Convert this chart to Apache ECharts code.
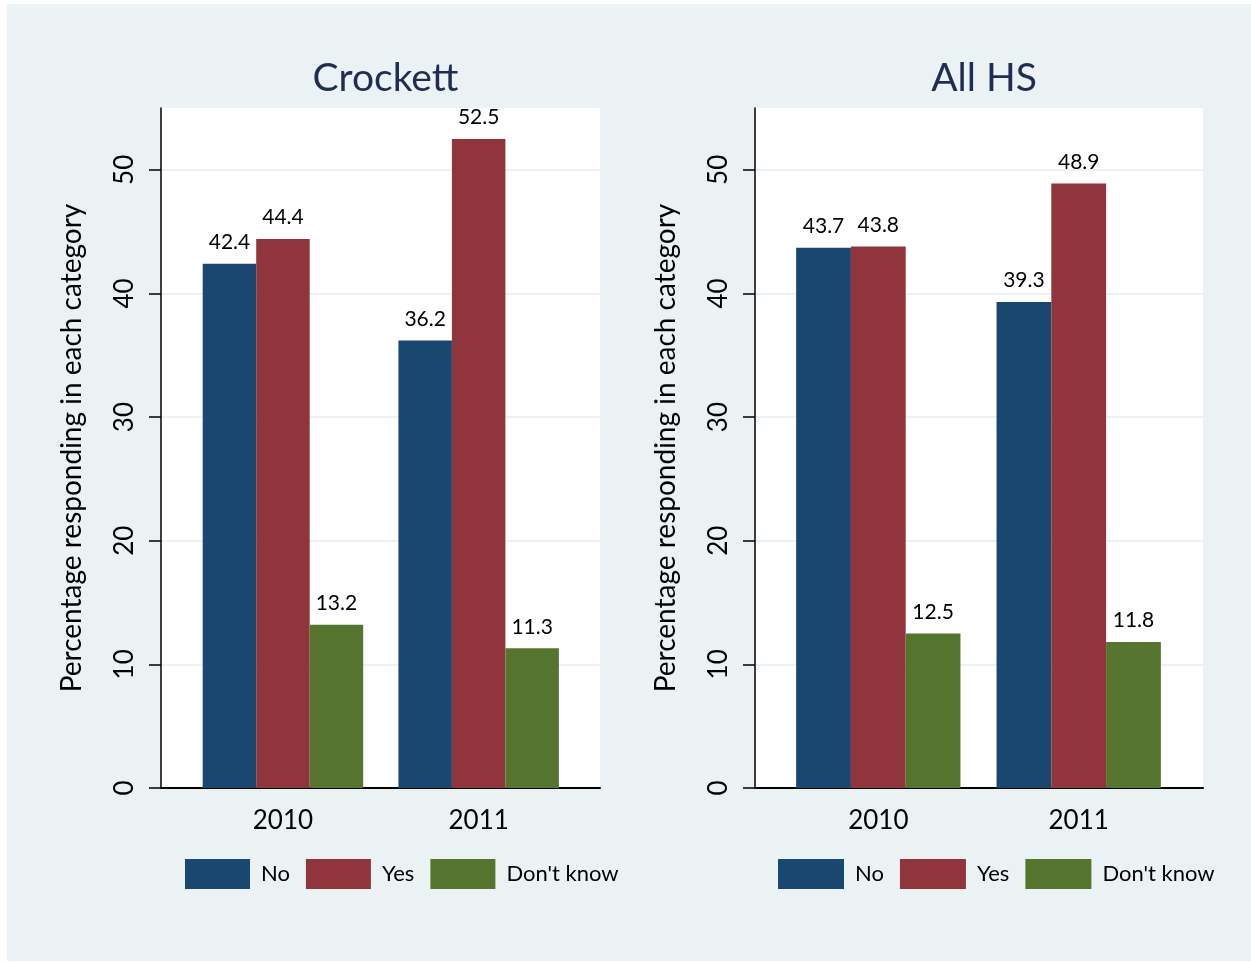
<!DOCTYPE html>
<html>
<head>
<meta charset="utf-8">
<script src="https://cdn.jsdelivr.net/npm/echarts@6/dist/echarts.min.js"></script>
<style>
  html, body { margin: 0; padding: 0; background: #ffffff; }
  #bg { position: absolute; left: 7px; top: 4px; width: 1244px; height: 957px; background: #eaf2f3; }
  #chart { position: absolute; left: 0; top: 0; width: 1251px; height: 962px; }
</style>
</head>
<body>
<div id="bg"></div>
<div id="chart"></div>
<script>
// ---- data ----
var years = ['2010', '2011'];
var seriesNames = ['No', 'Yes', "Don't know"];
var panelTitles = ['Crockett', 'All HS'];
var crockettNo = [42.4, 36.2];
var crockettYes = [44.4, 52.5];
var crockettDK = [13.2, 11.3];
var allhsNo = [43.7, 39.3];
var allhsYes = [43.8, 48.9];
var allhsDK = [12.5, 11.8];
var yTicks = [0, 10, 20, 30, 40, 50];
var yAxisTitle = 'Percentage responding in each category';

var colors = ['#1a476f', '#90353b', '#55752f'];
var FONT = 'Lato';

var chart = echarts.init(document.getElementById('chart'), null, { renderer: 'canvas' });

var panels = [
  { frameLeft: 161, frameWidth: 439, barLeft: 185.1, barWidth: 391.4, legendLeft: 185, iconW: 65, data: [crockettNo, crockettYes, crockettDK] },
  { frameLeft: 755, frameWidth: 448, barLeft: 778.1, barWidth: 400.8, legendLeft: 778, iconW: 66, data: [allhsNo, allhsYes, allhsDK] }
];
var TOP = 108, HEIGHT = 680, YMAX = 55;

var grids = [], xAxes = [], yAxes = [], series = [], legends = [], titles = [];

panels.forEach(function (p, pi) {
  var gFrame = grids.length;
  grids.push({ left: p.frameLeft, top: TOP, width: p.frameWidth, height: HEIGHT, show: true, backgroundColor: '#ffffff', borderWidth: 0 });
  xAxes.push({ type: 'value', gridIndex: gFrame, min: 0, max: 1,
    axisLine: { show: true, lineStyle: { color: '#000', width: 2 } },
    axisTick: { show: false }, axisLabel: { show: false }, splitLine: { show: false } });
  yAxes.push({ type: 'value', gridIndex: gFrame, min: 0, max: YMAX, interval: 10,
    axisLine: { show: true, lineStyle: { color: '#000', width: 1.5 } },
    axisTick: { show: true, length: 12, lineStyle: { color: '#000', width: 1.5 }, customValues: yTicks },
    axisLabel: { show: true, rotate: 90, fontSize: 26, margin: 23, color: '#000', fontFamily: FONT, customValues: yTicks },
    splitLine: { show: true, lineStyle: { color: '#eaf2f3', width: 2 } },
    name: yAxisTitle, nameLocation: 'middle', nameGap: 75,
    nameTextStyle: { fontSize: 28, color: '#000', fontFamily: FONT } });

  var gBar = grids.length;
  grids.push({ left: p.barLeft, top: TOP, width: p.barWidth, height: HEIGHT, show: false });
  var xi = xAxes.length;
  xAxes.push({ type: 'category', gridIndex: gBar, data: years,
    axisLine: { show: false }, axisTick: { show: false },
    axisLabel: { show: true, fontSize: 26, margin: 20, color: '#000', fontFamily: FONT } });
  var yi = yAxes.length;
  yAxes.push({ type: 'value', gridIndex: gBar, min: 0, max: YMAX, show: false, splitLine: { show: false } });

  seriesNames.forEach(function (name, si) {
    series.push({
      type: 'bar', name: name, xAxisIndex: xi, yAxisIndex: yi,
      data: p.data[si], barGap: '0%', barCategoryGap: '18%',
      itemStyle: { color: colors[si], borderWidth: 0 },
      label: { show: true, position: 'top', distance: 11, fontSize: 21, color: '#000', fontFamily: FONT,
        formatter: function (d) { return d.value.toFixed(1); } },
      emphasis: { disabled: true }, animation: false
    });
  });

  legends.push({
    data: seriesNames, left: p.legendLeft, top: 859, orient: 'horizontal',
    itemWidth: p.iconW, itemHeight: 30, itemGap: 16, icon: 'rect', padding: 0,
    selectedMode: false,
    textStyle: { fontSize: 22, color: '#000', fontFamily: FONT, padding: [6, 0, 0, 6] }
  });

  titles.push({
    text: panelTitles[pi], left: p.frameLeft + p.frameWidth / 2, top: 54, textAlign: 'center',
    textStyle: { fontSize: 39, fontWeight: 'normal', color: '#1f2d55', fontFamily: FONT }
  });
});

chart.setOption({
  animation: false,
  backgroundColor: 'transparent',
  textStyle: { fontFamily: FONT },
  title: titles,
  legend: legends,
  grid: grids,
  xAxis: xAxes,
  yAxis: yAxes,
  series: series
});
</script>
</body>
</html>
